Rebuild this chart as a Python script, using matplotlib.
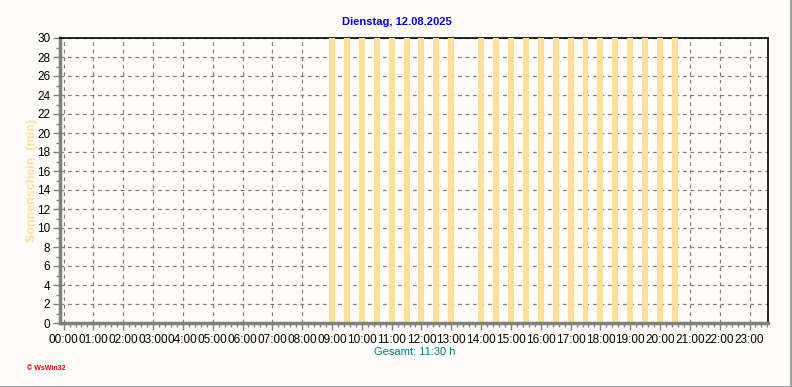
import numpy as np
import matplotlib.pyplot as plt
from matplotlib.ticker import MultipleLocator

plt.rcParams['font.family'] = ['Liberation Sans', 'DejaVu Sans']

# Zeitpunkte (Stunden) und Sonnenscheindauer pro 30-min-Intervall
zeiten = [9.0, 9.5, 10.0, 10.5, 11.0, 11.5, 12.0, 12.5, 13.0,
          14.0, 14.5, 15.0, 15.5, 16.0, 16.5, 17.0, 17.5, 18.0,
          18.5, 19.0, 19.5, 20.0, 20.5]
sonne = [30] * len(zeiten)
stunden = list(range(24))
stunden_labels = ["%02d:00" % h for h in stunden]

titel = "Dienstag, 12.08.2025"
gesamt = "Gesamt: 11:30 h"

bg = '#fdfcf8'
fig = plt.figure(figsize=(7.92, 3.87), dpi=100, facecolor=bg)
ax = fig.add_axes([60 / 792, 1 - 323 / 387, 708 / 792, 285 / 387])
ax.set_facecolor(bg)

ax.bar(zeiten, sonne, width=0.2, color='#ffdf9a', zorder=3)

ax.set_xlim(-0.12, 23.62)
ax.set_ylim(0, 30)
ax.set_xticks(stunden)
ax.set_xticklabels(stunden_labels, fontsize=8.5)
ax.xaxis.set_minor_locator(MultipleLocator(0.2))
ax.set_yticks(range(0, 31, 2))
ax.yaxis.set_minor_locator(MultipleLocator(1))
ax.tick_params(axis='y', labelsize=8.5, length=5, width=1, color='#808080', pad=2)
ax.tick_params(axis='x', length=5, width=1, color='#808080', pad=3)
ax.tick_params(which='minor', length=3, width=1, color='#808080')

ax.grid(True, which='major', color='#808080', linestyle=(0, (3, 3)), linewidth=0.9, zorder=1)

for s in ['top', 'right']:
    ax.spines[s].set_color('black')
    ax.spines[s].set_linewidth(1.2)
for s in ['left', 'bottom']:
    ax.spines[s].set_color('#808080')
    ax.spines[s].set_linewidth(2.5)
ax.spines['bottom'].set_zorder(4)

ax.set_ylabel("Sonnenschein  (min)", color='#ffe0a0', fontsize=9, fontweight='bold')
ax.yaxis.set_label_coords(-22 / 708, 0.5)

fig.text(397 / 792, 1 - 22 / 387, titel, color='#0000ee', fontsize=8, fontweight='bold',
         ha='center', va='center')
fig.text(415 / 792, 1 - 352 / 387, gesamt, color='#008080', fontsize=8,
         ha='center', va='center')
fig.text(27 / 792, 1 - 368 / 387, "\u00a9 WsWin32", color='#ee0000', fontsize=5,
         fontweight='bold', ha='left', va='center')

# Rahmen unten/rechts
fig.add_artist(plt.Line2D([0, 1], [0.5 / 387, 0.5 / 387], color='#a0a0a0', linewidth=1.5,
                          transform=fig.transFigure))
fig.add_artist(plt.Line2D([1 - 1 / 792, 1 - 1 / 792], [0, 1], color='#a0a0a0', linewidth=1.5,
                          transform=fig.transFigure))

fig.savefig("out.png", dpi=100, facecolor=bg)
